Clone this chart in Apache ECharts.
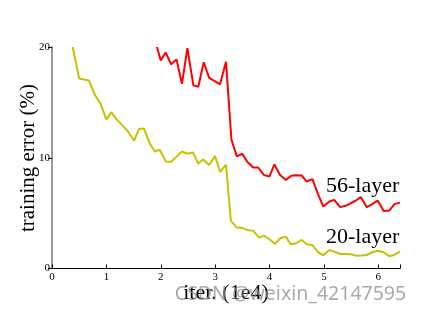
<!DOCTYPE html>
<html><head><meta charset="utf-8">
<script src="https://cdn.jsdelivr.net/npm/echarts@6/dist/echarts.min.js"></script>
<style>html,body{margin:0;padding:0;background:#fff}#c{width:424px;height:314px}</style>
</head><body><div id="c"></div>
<script>
var xTicks = [0,1,2,3,4,5,6];
var yTicks = [0,10,20];
var x20 = [0.38,0.5,0.68,0.79,0.9,1.0,1.09,1.2,1.3,1.4,1.51,1.6,1.69,1.8,1.89,1.98,2.09,2.19,2.29,2.39,2.49,2.59,2.69,2.78,2.89,3.0,3.09,3.2,3.29,3.4,3.49,3.6,3.7,3.81,3.9,4.0,4.1,4.2,4.3,4.39,4.49,4.59,4.68,4.79,4.89,4.99,5.1,5.19,5.3,5.4,5.5,5.59,5.69,5.79,5.89,5.99,6.1,6.2,6.29,6.4];
var y20 = [20.0,17.15,16.97,15.67,14.8,13.44,14.1,13.4,12.9,12.35,11.54,12.6,12.65,11.27,10.57,10.72,9.67,9.64,10.1,10.57,10.36,10.48,9.48,9.85,9.34,10.15,8.73,9.37,4.3,3.69,3.69,3.46,3.42,2.79,2.97,2.64,2.22,2.73,2.88,2.19,2.28,2.58,2.22,2.10,1.47,1.19,1.67,1.52,1.31,1.3,1.28,1.16,1.18,1.22,1.47,1.61,1.47,1.10,1.22,1.52];
var x56 = [1.93,2.0,2.09,2.19,2.29,2.39,2.49,2.6,2.69,2.79,2.89,3.0,3.09,3.2,3.3,3.4,3.5,3.59,3.7,3.79,3.9,4.0,4.09,4.19,4.3,4.4,4.49,4.59,4.68,4.79,4.89,4.99,5.1,5.19,5.3,5.4,5.5,5.59,5.68,5.79,5.89,5.99,6.1,6.2,6.3,6.4];
var y56 = [20.0,18.78,19.5,18.44,18.87,16.67,19.9,16.54,16.4,18.62,17.21,16.9,16.63,18.66,11.63,10.12,10.36,9.64,9.12,9.12,8.43,8.31,9.4,8.46,8.0,8.37,8.43,8.4,7.86,8.07,6.74,5.59,6.05,6.2,5.54,5.66,5.9,6.14,6.44,5.54,5.81,6.14,5.2,5.23,5.81,5.95];
var seriesNames = ['20-layer','56-layer'];

function pairs(xs, ys){ return xs.map(function(x,i){return [x, ys[i]];}); }
var serif = 'Liberation Serif, Times New Roman, serif';
var chart = echarts.init(document.getElementById('c'), null, {renderer:'canvas'});
chart.setOption({
  animation:false,
  grid:{left:52, right:24, top:47, bottom:45.5, containLabel:false},
  xAxis:{type:'value', min:0, max:6.4, interval:1,
    axisLine:{show:true, lineStyle:{color:'#000', width:1}},
    axisTick:{show:true, inside:true, length:4, lineStyle:{color:'#000'}},
    axisLabel:{color:'#000', fontFamily:serif, fontSize:11, margin:3,
      formatter:function(v){ return xTicks.indexOf(v)>=0 ? String(v) : ''; }},
    splitLine:{show:false}},
  yAxis:{type:'value', min:0, max:20, interval:10,
    axisLine:{show:true, lineStyle:{color:'#999', width:2}},
    axisTick:{show:true, inside:false, length:4, lineStyle:{color:'#000'}},
    axisLabel:{color:'#000', fontFamily:serif, fontSize:11, margin:2,
      formatter:function(v){ return yTicks.indexOf(v)>=0 ? String(v) : ''; }},
    splitLine:{show:false}},
  series:[
    {name:seriesNames[0], type:'line', data:pairs(x20,y20), symbol:'none', lineStyle:{color:'#c8c000', width:2}},
    {name:seriesNames[1], type:'line', data:pairs(x56,y56), symbol:'none', lineStyle:{color:'#ff0000', width:2}}
  ],
  graphic:[
    {type:'text', left:326, top:175, style:{text:'56-layer', font:'22px '+serif, fill:'#000'}},
    {type:'text', left:326, top:226, style:{text:'20-layer', font:'22px '+serif, fill:'#000'}},
    {type:'text', x:28, y:158, rotation:Math.PI/2, style:{text:'training error (%)', font:'21px '+serif, fill:'#000', align:'center', verticalAlign:'middle'}},
    {type:'text', x:226, y:293, style:{text:'iter. (1e4)', font:'22px '+serif, fill:'#000', align:'center', verticalAlign:'middle'}},
    {type:'text', x:290.5, y:294, style:{text:'CSDN @weixin_42147595', font:'19.5px Noto Sans, sans-serif', fill:'rgba(140,140,140,0.75)', align:'center', verticalAlign:'middle'}}
  ]
});
</script></body></html>
